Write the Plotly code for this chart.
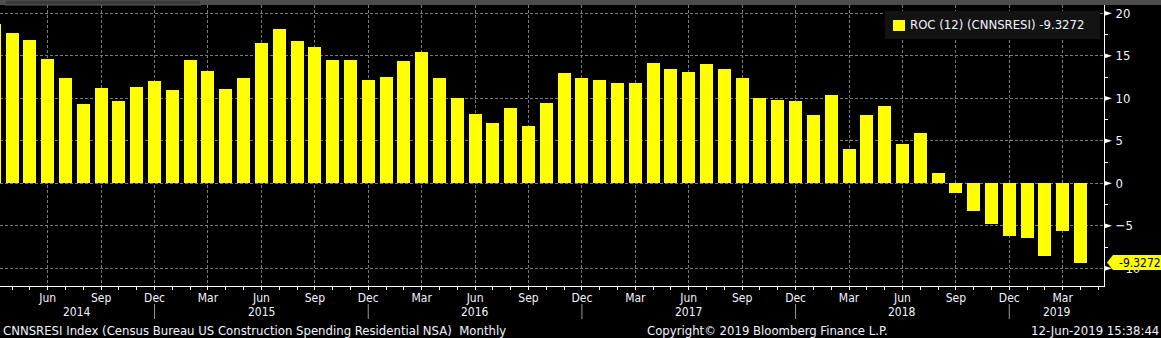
import plotly.graph_objects as go
import pandas as pd

# ---------------- data ----------------
months = [p.strftime("%b %Y") for p in pd.period_range("2014-03", "2019-04", freq="M")]
roc_values = [
    18.74, 17.68, 16.86, 14.62, 12.39, 9.33, 11.21, 9.68, 11.33, 12.04,
    10.98, 14.51, 13.21, 11.09, 12.39, 16.51, 18.15, 16.74, 16.04, 14.51,
    14.51, 12.15, 12.51, 14.39, 15.45, 12.39, 10.04, 8.15, 7.09, 8.86,
    6.74, 9.45, 12.98, 12.39, 12.15, 11.80, 11.80, 14.15, 13.45, 13.09,
    14.04, 13.45, 12.39, 10.04, 9.80, 9.68, 8.04, 10.39, 4.04, 8.04,
    9.09, 4.62, 5.92, 1.21, -1.14, -3.26, -4.79, -6.20, -6.44, -8.55,
    -5.61, -9.3272,
]
last_value = roc_values[-1]
series_name = "ROC (12) (CNNSRESI)"
quarter_months = ["Mar", "Jun", "Sep", "Dec"]
y_ticks = [20, 15, 10, 5, 0, -5, -10]
footer_left = "CNNSRESI Index (Census Bureau US Construction Spending Residential NSA)  Monthly"
footer_mid = "Copyright\u00a9 2019 Bloomberg Finance L.P."
footer_right = "12-Jun-2019 15:38:44"

# ---------------- layout constants ----------------
W, H = 1161, 338
ML, MR, MT, MB = 0, 57, 5, 52
PW = W - ML - MR          # plot width in px
PH = H - MT - MB          # plot height in px
X_RANGE = [0.32, 62.32]
Y_RANGE = [-12.08, 20.976]
FONT = "DejaVu Sans Condensed, Liberation Sans Narrow, DejaVu Sans, sans-serif"
TXT = "#f2f4ff"
YEL = "#ffff00"
GRID = "#7a7a7a"

idx = list(range(len(months)))
n_ticks = len(months) + 1  # one extra month tick after last bar
tick_idx = [i for i in range(len(months)) if months[i][:3] in quarter_months]
tick_txt = [months[i][:3] for i in tick_idx]


def px2xp(px):
    return (px - ML) / PW


def px2yp(py):
    return (H - MB - py) / PH


fig = go.Figure()
fig.add_trace(go.Bar(
    x=idx, y=roc_values, name=f"{series_name} {last_value}",
    marker=dict(color=YEL, line=dict(width=0)), width=0.73,
    showlegend=False,
))

shapes = []
annotations = []

# top strip (window chrome)
shapes.append(dict(type="rect", xref="paper", yref="paper", x0=0, x1=px2xp(W),
                   y0=1, y1=px2yp(0), fillcolor="#4d4d4d", line=dict(width=0), layer="above"))
shapes.append(dict(type="rect", xref="paper", yref="paper", x0=px2xp(5), x1=px2xp(201),
                   y0=1, y1=px2yp(0), fillcolor="#3a3a3a", line=dict(color="#5a5a5a", width=1), layer="above"))

# y major tick triangles
tri_w = 8 / PW
tri_h = 2.6 * (Y_RANGE[1] - Y_RANGE[0]) / PH
for v in y_ticks:
    shapes.append(dict(type="path", xref="paper", yref="y",
                       path=f"M 1 {v - tri_h} L {1 + tri_w} {v} L 1 {v + tri_h} Z",
                       fillcolor="white", line=dict(width=0), layer="above"))

# year labels and separators
years = sorted({m[-4:] for m in months})
for y in years:
    inds = [i for i, m in enumerate(months) if m.endswith(y)]
    start = (inds[0] - 1) if y != years[0] else X_RANGE[0]
    end = inds[-1] if y != years[-1] else X_RANGE[1]
    annotations.append(dict(xref="x", yref="paper", x=(start + end) / 2, y=0, yshift=-(312 - (H - MB)),
                            text=y, showarrow=False, font=dict(color=TXT, size=12, family=FONT),
                            xanchor="center", yanchor="middle"))
    if y != years[0]:
        shapes.append(dict(type="line", xref="x", yref="paper", x0=start, x1=start,
                           y0=px2yp(304), y1=px2yp(319), line=dict(color="#9a9a9a", width=1)))

# footer
annotations.append(dict(xref="paper", yref="paper", x=0, y=0, xshift=1, yshift=-(330 - (H - MB)),
                        text=footer_left, showarrow=False, xanchor="left", yanchor="middle",
                        font=dict(color=TXT, size=13, family=FONT)))
annotations.append(dict(xref="paper", yref="paper", x=px2xp(767), y=0, yshift=-(330 - (H - MB)),
                        text=footer_mid, showarrow=False, xanchor="center", yanchor="middle",
                        font=dict(color=TXT, size=13, family=FONT)))
annotations.append(dict(xref="paper", yref="paper", x=px2xp(W), y=0, yshift=-(330 - (H - MB)),
                        text=footer_right, showarrow=False, xanchor="right", yanchor="middle",
                        font=dict(color=TXT, size=13, family=FONT)))

# legend box
shapes.append(dict(type="rect", xref="paper", yref="paper", x0=px2xp(885), x1=px2xp(1100),
                   y0=px2yp(39), y1=px2yp(11), fillcolor="#131313", line=dict(width=0), layer="above"))
shapes.append(dict(type="rect", xref="paper", yref="paper", x0=px2xp(893), x1=px2xp(905),
                   y0=px2yp(31), y1=px2yp(20), fillcolor=YEL, line=dict(width=0), layer="above"))
annotations.append(dict(xref="paper", yref="paper", x=px2xp(908), y=px2yp(25), xanchor="left",
                        yanchor="middle", text=f"{series_name} {last_value}", showarrow=False,
                        font=dict(color=TXT, size=13, family=FONT)))

# last value tag
upy = (Y_RANGE[1] - Y_RANGE[0]) / PH
shapes.append(dict(type="path", xref="paper", yref="y",
                   path=(f"M {px2xp(1107)} {last_value} L {px2xp(1113)} {last_value + 7.5 * upy} "
                         f"L {px2xp(W + 2)} {last_value + 7.5 * upy} L {px2xp(W + 2)} {last_value - 7.5 * upy} "
                         f"L {px2xp(1113)} {last_value - 7.5 * upy} Z"),
                   fillcolor=YEL, line=dict(width=0), layer="above"))
annotations.append(dict(xref="paper", yref="y", x=px2xp(W), y=last_value, xanchor="right",
                        yanchor="middle", text=f"{last_value}", showarrow=False,
                        font=dict(color="black", size=12, family=FONT), borderpad=0, borderwidth=0))

fig.update_layout(
    width=W, height=H,
    margin=dict(l=ML, r=MR, t=MT, b=MB, pad=0),
    paper_bgcolor="black", plot_bgcolor="black",
    bargap=0, showlegend=False,
    font=dict(family=FONT, color=TXT, size=13),
    shapes=shapes, annotations=annotations,
    xaxis=dict(
        range=X_RANGE, tickmode="array", tickvals=tick_idx, ticktext=tick_txt,
        showgrid=True, gridcolor=GRID, griddash="3px,2px", gridwidth=1,
        showline=True, linecolor="white", linewidth=1, zeroline=False,
        ticks="outside", ticklen=3, tickcolor="white", tickwidth=1,
        tickfont=dict(color=TXT, size=12, family=FONT),
        ticklabelstandoff=-2,
        minor=dict(tickmode="array", tickvals=list(range(n_ticks)), ticks="outside",
                   ticklen=3, tickcolor="white", tickwidth=1, showgrid=False),
        fixedrange=True,
    ),
    yaxis=dict(
        range=Y_RANGE, side="right", tickmode="array", tickvals=y_ticks,
        ticktext=[str(v).replace("-", "\u2212") for v in y_ticks],
        showgrid=True, gridcolor=GRID, griddash="3px,2px", gridwidth=1,
        showline=True, linecolor="white", linewidth=1, zeroline=False,
        ticks="outside", ticklen=8, tickcolor="rgba(0,0,0,0)",
        tickfont=dict(color=TXT, size=13, family=FONT),
        minor=dict(dtick=2.5, tick0=0, ticks="outside", ticklen=3, tickcolor="white",
                   tickwidth=1, showgrid=False),
        fixedrange=True,
    ),
)

fig.write_html("out.html")
